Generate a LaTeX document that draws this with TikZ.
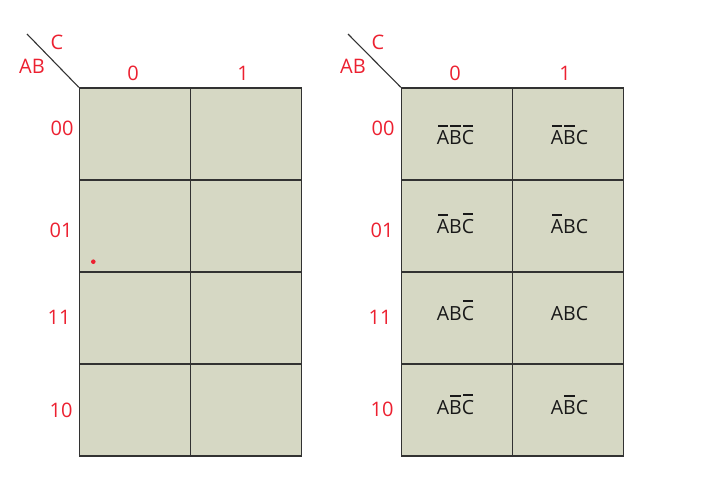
\documentclass[tikz,border=0pt]{standalone}
\usepackage{fontspec}
\setmainfont{Open Sans}
\newcommand\ovl[1]{\setbox0\hbox{#1}\rlap{\hspace{0.1\wd0}\raisebox{1.24\ht0}{\rule{0.8\wd0}{0.11em}}}\box0}
\definecolor{kfill}{RGB}{214,216,196}
\definecolor{kred}{RGB}{236,32,48}
\definecolor{kline}{RGB}{50,50,50}
\tikzset{
  cell/.style={draw=kline, line width=1.4pt, fill=kfill, minimum width=111pt, minimum height=92pt, inner sep=0pt},
  term/.style={anchor=base, inner sep=0pt, font=\fontsize{19.5}{23}\selectfont, text=black!90},
  lbl/.style={text=kred, font=\fontsize{20}{24}\selectfont, inner sep=0pt},
  diag/.style={draw=kline, line width=1.1pt}
}
\begin{document}
\begin{tikzpicture}[x=1pt,y=-1pt]
\useasboundingbox (0,0) rectangle (706,490);
% left map
\node[cell] (l00a) at (135,134) {};
\node[cell] (l00b) at (246,134) {};
\node[cell] (l01a) at (135,226) {};
\node[cell] (l01b) at (246,226) {};
\node[cell] (l11a) at (135,318) {};
\node[cell] (l11b) at (246,318) {};
\node[cell] (l10a) at (135,410) {};
\node[cell] (l10b) at (246,410) {};
\coordinate (ltip) at (27,34);
\draw[diag] (l00a.north west) -- (ltip);
\node[lbl] (lc) at (57,42) {C};
\node[lbl] (lab) at (32,66) {AB};
\node[lbl] (lc0) at (133,73) {0};
\node[lbl] (lc1) at (243,73) {1};
\node[lbl] (lr00) at (62,128) {00};
\node[lbl] (lr01) at (61,230) {01};
\node[lbl] (lr11) at (59,317) {11};
\node[lbl] (lr10) at (61,410) {10};
\fill[kred] (93.3,261.7) circle[radius=2.3pt];
% right map
\node[cell] (r00a) at (457,134) {};
\node[cell] (r00b) at (568,134) {};
\node[cell] (r01a) at (457,226) {};
\node[cell] (r01b) at (568,226) {};
\node[cell] (r11a) at (457,318) {};
\node[cell] (r11b) at (568,318) {};
\node[cell] (r10a) at (457,410) {};
\node[cell] (r10b) at (568,410) {};
\node[term] (t00a) at (455.5,144.5) {\ovl{A}\ovl{B}\ovl{C}};
\node[term] (t00b) at (569.5,144.5) {\ovl{A}\ovl{B}C};
\node[term] (t01a) at (455.5,233) {\ovl{A}B\ovl{C}};
\node[term] (t01b) at (569.5,233) {\ovl{A}BC};
\node[term] (t11a) at (455.5,320) {AB\ovl{C}};
\node[term] (t11b) at (569.5,320) {ABC};
\node[term] (t10a) at (455.5,414) {A\ovl{B}\ovl{C}};
\node[term] (t10b) at (569.5,414) {A\ovl{B}C};
\coordinate (rtip) at (348,34);
\draw[diag] (r00a.north west) -- (rtip);
\node[lbl] (rc) at (378,42) {C};
\node[lbl] (rab) at (353,66) {AB};
\node[lbl] (rc0) at (455,73) {0};
\node[lbl] (rc1) at (565,73) {1};
\node[lbl] (rr00) at (383,128) {00};
\node[lbl] (rr01) at (382,230) {01};
\node[lbl] (rr11) at (380,317) {11};
\node[lbl] (rr10) at (382,409) {10};
\end{tikzpicture}
\end{document}
